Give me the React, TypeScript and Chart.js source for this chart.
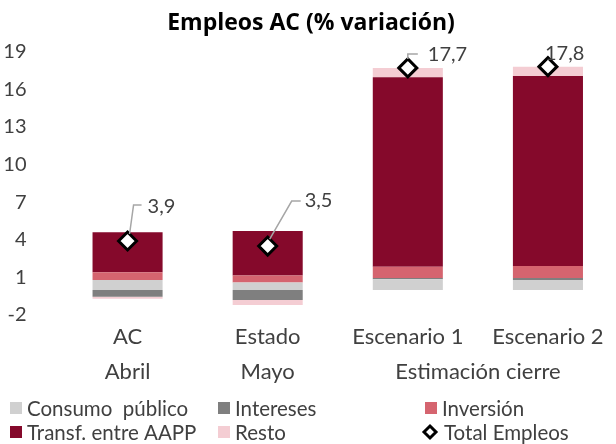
import React, { useEffect, useRef } from "react";
import { Chart, registerables } from "chart.js";

Chart.register(...registerables);

// ---- Data ----
const categories: string[][] = [["AC", "Abril"], ["Estado", "Mayo"], ["Escenario 1"], ["Escenario 2"]];
const groupLabel = "Estimación cierre";
const seriesNames = ["Consumo  público", "Intereses", "Inversión", "Transf. entre AAPP", "Resto", "Total Empleos"];
const consumo = [0.8, 0.6, 0.85, 0.8];
const intereses = [-0.55, -0.8, 0.1, 0.15];
const inversion = [0.6, 0.55, 0.9, 0.95];
const transf = [3.2, 3.55, 15.1, 15.15];
const resto = [-0.15, -0.4, 0.75, 0.75];
const total = [3.9, 3.5, 17.7, 17.8];
const yTicks = [-2, 1, 4, 7, 10, 13, 16, 19];

// ---- Styles ----
const FONT = "Lato";
const TEXT = "#404040";
const colors = ["#D0D0D0", "#7F7F7F", "#D5646F", "#85092B", "#F4CDD3"];

const labelOffsets = [
  { line: [[2, -7], [6, -36], [14, -36]], text: [20, -34] },
  { line: [[2, -7], [24, -45], [33, -45]], text: [37, -45] },
  { line: [[0, -9], [0, -14], [10, -14]], text: [20, -13] },
  { line: null, text: [-3, -13] },
];

const legendSlots = [
  { x: 10, y: 408 }, { x: 218, y: 408 }, { x: 425, y: 408 },
  { x: 10, y: 432 }, { x: 218, y: 432 }, { x: 425, y: 432 },
];

const fmt = (v: number) => v.toFixed(1).replace(".", ",");

const extrasPlugin = {
  id: "extras",
  afterDatasetsDraw(chart: any) {
    const ctx = chart.ctx;
    const meta = chart.getDatasetMeta(5);
    ctx.save();
    meta.data.forEach((pt: any, i: number) => {
      const o = labelOffsets[i];
      if (o.line) {
        ctx.strokeStyle = "#A6A6A6";
        ctx.lineWidth = 1.5;
        ctx.beginPath();
        o.line.forEach((p: number[], k: number) => {
          if (k === 0) ctx.moveTo(pt.x + p[0], pt.y + p[1]);
          else ctx.lineTo(pt.x + p[0], pt.y + p[1]);
        });
        ctx.stroke();
      }
      ctx.fillStyle = TEXT;
      ctx.font = `20px ${FONT}`;
      ctx.textAlign = "left";
      ctx.textBaseline = "middle";
      ctx.fillText(fmt(total[i]), pt.x + o.text[0], pt.y + o.text[1]);
    });
    ctx.restore();
  },
  afterDraw(chart: any) {
    const ctx = chart.ctx;
    const xs = chart.scales.x;
    ctx.save();
    const gx = (xs.getPixelForValue(2) + xs.getPixelForValue(3)) / 2;
    const lh = 35;
    const gy = chart.chartArea.bottom + 4 + lh * 1.5;
    ctx.fillStyle = TEXT;
    ctx.font = `22px ${FONT}`;
    ctx.textAlign = "center";
    ctx.textBaseline = "middle";
    ctx.fillText(groupLabel, gx, gy);
    ctx.font = `20.5px ${FONT}`;
    ctx.textAlign = "left";
    chart.data.datasets.forEach((ds: any, i: number) => {
      const s = legendSlots[i];
      if (i < 5) {
        ctx.fillStyle = ds.backgroundColor;
        ctx.fillRect(s.x, s.y - 6, 12, 12);
        ctx.fillStyle = TEXT;
        ctx.fillText(ds.label, s.x + 17, s.y + 1);
      } else {
        ctx.strokeStyle = "#000";
        ctx.lineWidth = 3;
        ctx.fillStyle = "#fff";
        ctx.beginPath();
        ctx.moveTo(s.x + 5, s.y - 6);
        ctx.lineTo(s.x + 11, s.y);
        ctx.lineTo(s.x + 5, s.y + 6);
        ctx.lineTo(s.x - 1, s.y);
        ctx.closePath();
        ctx.fill();
        ctx.stroke();
        ctx.fillStyle = TEXT;
        ctx.fillText(ds.label, s.x + 19, s.y + 1);
      }
    });
    ctx.restore();
  },
};

export default function App() {
  const ref = useRef<HTMLCanvasElement>(null);
  useEffect(() => {
    const bars = [consumo, intereses, inversion, transf, resto].map((d, i) => ({
      type: "bar" as const,
      label: seriesNames[i],
      data: d,
      backgroundColor: colors[i],
      borderWidth: 0,
      stack: "s",
      categoryPercentage: 0.5,
      barPercentage: 1,
    }));
    const chart = new Chart(ref.current!, {
      type: "bar",
      data: {
        labels: categories as any,
        datasets: [
          ...bars,
          {
            type: "line" as const,
            label: seriesNames[5],
            data: total,
            showLine: false,
            pointStyle: "rectRot",
            pointRadius: 9,
            pointBackgroundColor: "#fff",
            pointBorderColor: "#000",
            pointBorderWidth: 3,
            stack: "t",
            order: -1,
          } as any,
        ],
      },
      options: {
        responsive: false,
        animation: false,
        devicePixelRatio: 1,
        layout: { padding: { left: 0, right: 8, top: 0, bottom: 49 } },
        plugins: {
          legend: { display: false },
          tooltip: { enabled: false },
          title: {
            display: true,
            text: "Empleos AC (% variación)",
            color: "#000",
            font: { family: "Open Sans", size: 23, weight: "bold", lineHeight: 1.2 },
            padding: { top: 10, bottom: 14 },
          },
        },
        scales: {
          x: {
            stacked: true,
            grid: { display: false, drawTicks: false },
            border: { display: false },
            ticks: { color: TEXT, font: { family: FONT, size: 22, lineHeight: 35 / 22 }, padding: 4, maxRotation: 0, autoSkip: false },
            afterFit: (s: any) => { s.height = 80; },
          },
          y: {
            stacked: true,
            min: -2,
            max: 19,
            grid: { display: false, drawTicks: false },
            border: { display: false },
            ticks: { color: TEXT, font: { family: FONT, size: 20 }, padding: 31 },
            afterBuildTicks: (s: any) => { s.ticks = yTicks.map((v) => ({ value: v })); },
            afterFit: (s: any) => { s.width = 57.5; },
          },
        },
      },
      plugins: [extrasPlugin],
    });
    return () => chart.destroy();
  }, []);
  return (
    <div style={{ position: "absolute", left: 0, top: 0, width: 616, height: 444, overflow: "hidden", background: "#fff" }}>
      <canvas ref={ref} width={630} height={444} />
    </div>
  );
}
